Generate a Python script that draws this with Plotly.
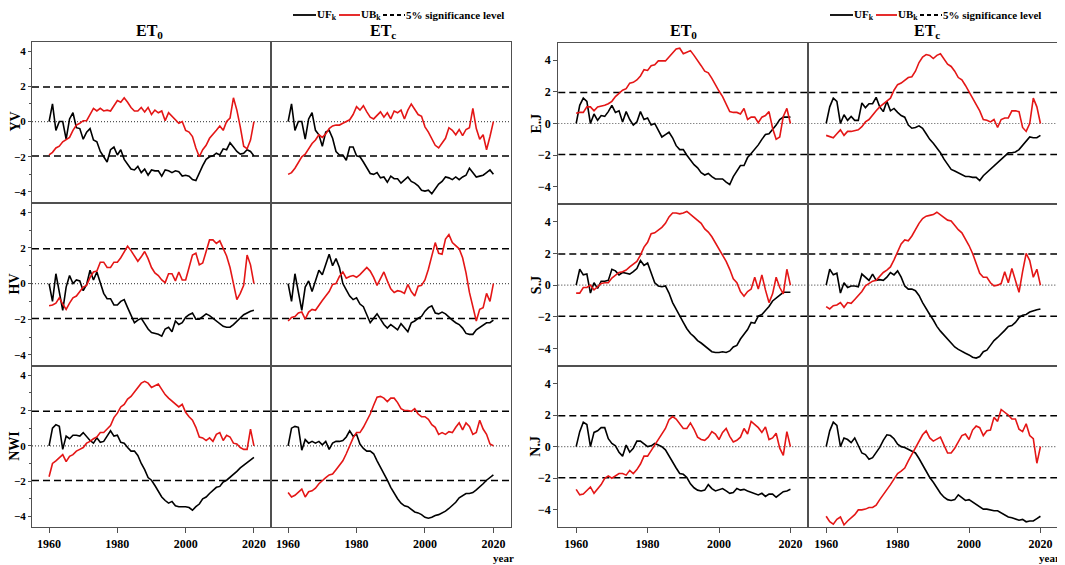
import plotly.graph_objects as go

YEARS = list(range(1960, 2021))
REGIONS_LEFT = ["YV", "HV", "NWI"]
REGIONS_RIGHT = ["E.J", "S.J", "N.J"]
COLUMN_TITLES = ["ET<sub>0</sub>", "ET<sub>c</sub>"]
SIG = 1.96
LEGEND_TEXTS = ["UF<sub>k</sub>", "UB<sub>k</sub>", "5% significance level"]

# ---------------- left group ----------------
YV_ET0_UF = [0, 1.0, -0.5, 0, 0, -1.0, 0.15, 0.5, -0.35, -0.4,
             -1.0, -0.6, -0.4, -1.05, -1.15, -1.7, -2.0, -2.3, -1.6, -1.45,
             -1.9, -1.6, -2.15, -2.45, -2.7, -2.75, -2.55, -2.9, -2.7, -3.05,
             -2.75, -2.8, -2.8, -3.1, -2.75, -2.8, -2.9, -2.8, -2.85, -3.1,
             -3.05, -3.1, -3.3, -3.35, -2.9, -2.5, -2.15, -2.0, -1.95, -1.8,
             -1.9, -1.55, -1.6, -1.2, -1.45, -1.7, -1.85, -1.8, -1.6, -1.7,
             -1.95]
YV_ET0_UB = [-1.9, -1.75, -1.5, -1.4, -1.15, -1.0, -0.9, -0.5, -0.2, -0.1,
             0.05, 0.05, 0.4, 0.75, 0.6, 0.75, 0.6, 0.65, 0.6, 0.9,
             1.2, 1.1, 1.35, 1.1, 0.8, 0.6, 0.6, 0.8, 0.55, 0.8,
             0.4, 0.65, 0.5, 0.6, 0.05, 0.5, 0.3, 0.15, -0.1, 0.0,
             -0.5, -0.6, -0.85, -1.5, -2.0, -1.6, -1.35, -0.95, -0.75, -0.5,
             -0.25, -0.5, 0.0, 0.2, 1.35, 0.65, -0.3, -1.4, -1.55, -1.05,
             0.0]
YV_ETc_UF = [0, 1.0, -0.5, 0, 0, -1.0, 0.15, 0.5, -0.5, -0.75,
             -1.4, -0.6, -0.5, -0.95, -1.7, -1.9, -1.9, -2.2, -1.45, -1.45,
             -1.95, -2.0, -2.3, -2.65, -2.95, -3.0, -2.9, -3.2, -3.15, -3.45,
             -3.1, -3.25, -3.25, -3.5, -3.35, -3.15, -3.4, -3.5, -3.65, -3.9,
             -3.95, -3.9, -4.1, -3.85, -3.55, -3.4, -3.15, -3.2, -3.3, -3.15,
             -3.3, -3.15, -3.05, -2.65, -2.9, -3.15, -3.1, -3.05, -2.9, -2.75,
             -3.0]
YV_ETc_UB = [-3.0, -2.9, -2.65, -2.35, -2.0, -1.85, -1.55, -1.25, -1.05, -0.75,
             -0.9, -0.7, -0.4, -0.25, -0.2, -0.2, -0.1, 0.0, 0.1, 0.4,
             0.85, 0.65, 0.9, 0.55, 0.25, 0.15, 0.35, 0.55, 0.25, 0.5,
             0.15, 0.6, 0.5, 0.65, 0.15, 0.65, 1.0, 0.7, 0.4, 0.3,
             -0.3, -0.6, -1.0, -1.35, -1.5, -1.25, -0.95, -0.35, -0.5, -0.75,
             -0.45, -0.8, -0.45, -0.35, 0.75, -0.4, -1.0, -0.75, -1.6, -0.85,
             0.0]
HV_ET0_UF = [0, -1.0, 0.55, -0.6, -1.5, -0.2, 0.45, 0.0, 0.2, 0.15,
             -0.4, -0.05, 0.75, 0.2, 0.65, 0.05, -0.55, -0.85, -0.85, -1.2,
             -1.2, -1.0, -0.9, -1.35, -1.75, -2.2, -2.05, -1.95, -2.25, -2.55,
             -2.75, -2.8, -2.85, -2.95, -2.55, -2.45, -2.7, -2.1, -2.3, -2.2,
             -1.9, -1.75, -1.65, -2.0, -2.0, -1.85, -1.7, -1.8, -1.95, -2.05,
             -2.2, -2.4, -2.45, -2.45, -2.3, -2.1, -1.9, -1.75, -1.65, -1.55,
             -1.5]
HV_ET0_UB = [-1.25, -1.2, -1.1, -0.8, -1.15, -1.45, -1.1, -0.8, -0.7, -0.45,
             -0.2, -0.1, 0.35, 0.65, 0.7, 1.2, 1.2, 0.9, 0.9, 1.2,
             1.2, 1.45, 1.75, 2.1, 1.85, 1.55, 1.25, 1.5, 1.8, 1.4,
             0.9, 0.6, 0.45, 0.2, 0.05, 0.55, 0.55, 0.15, 0.65, 0.2,
             0.2, 0.9, 1.6, 1.7, 1.05, 1.15, 1.85, 2.45, 2.45, 2.25,
             2.4, 1.95, 1.55, 0.9, 0.05, -0.9, -0.55, -0.1, 1.6, 1.05,
             0.0]
HV_ETc_UF = [0, -1.0, 0.55, -0.55, -1.5, -0.2, 0.15, -0.45, 0.15, 0.75,
             0.5, 1.05, 1.65, 1.0, 1.4, 0.9, 0.0, -0.35, -0.7, -0.9,
             -0.8, -1.15, -1.3, -1.75, -2.2, -1.95, -1.7, -2.0, -2.3, -2.5,
             -2.3, -2.45, -2.6, -2.25, -2.5, -2.7, -2.2, -2.1, -1.95, -1.85,
             -1.55, -1.35, -1.25, -1.65, -1.7, -1.6, -1.7, -1.9, -2.05, -2.2,
             -2.3, -2.5, -2.8, -2.85, -2.85, -2.6, -2.45, -2.3, -2.2, -2.2,
             -2.05]
HV_ETc_UB = [-2.1, -1.9, -1.85, -1.65, -1.6, -2.0, -1.6, -1.45, -1.5, -1.2,
             -0.95, -0.7, -0.45, -0.05, 0.0, 0.4, 0.65, 0.3, 0.4, 0.45,
             0.35, 0.5, 0.7, 0.9, 0.7, 0.35, -0.1, 0.3, 0.65, 0.15,
             -0.3, -0.5, -0.4, -0.45, -0.55, -0.05, -0.45, -0.7, -0.15, -0.1,
             0.2, 0.8, 1.5, 2.3, 1.7, 1.65, 2.5, 2.75, 2.3, 2.1,
             1.95, 1.45, 0.6, -0.5, -1.35, -2.1, -1.45, -1.35, -0.55, -1.0,
             0.0]
NWI_ET0_UF = [0, 1.0, 1.2, 1.1, -0.2, 0.55, 0.4, 0.6, 0.6, 0.55,
              0.75, 0.5, 0.3, 0.15, 0.45, 0.2, 0.25, 0.55, 0.85, 0.55,
              0.6, 0.2, 0.15, -0.1, -0.3, -0.3, -0.55, -1.0, -1.35, -1.8,
              -1.95, -2.25, -2.6, -2.9, -3.1, -3.25, -3.15, -3.4, -3.45, -3.45,
              -3.45, -3.5, -3.65, -3.45, -3.3, -3.0, -2.9, -2.7, -2.5, -2.35,
              -2.3, -2.05, -1.95, -1.8, -1.6, -1.45, -1.25, -1.1, -1.0, -0.85,
              -0.65]
NWI_ET0_UB = [-1.75, -1.0, -0.85, -0.7, -0.5, -0.9, -0.6, -0.5, -0.3, -0.2,
              -0.1, 0.15, 0.25, 0.4, 0.5, 0.75, 0.75, 0.95, 1.15, 1.6,
              1.85, 2.2, 2.35, 2.65, 2.8, 3.05, 3.3, 3.55, 3.65, 3.55,
              3.3, 3.4, 3.5, 3.2, 2.9, 2.7, 2.55, 2.4, 2.2, 2.35,
              1.9, 1.65, 1.45, 1.05, 0.5, 0.45, 0.3, 0.45, 0.25, 0.65,
              0.75, 0.3, 0.6, 0.5, 0.15, 0.1, -0.1, -0.2, -0.2, 0.95,
              0.0]
NWI_ETc_UF = [0, 1.0, 1.1, 1.05, -0.25, 0.35, 0.15, 0.25, 0.15, 0.25,
              0.05, 0.25, -0.2, 0.15, 0.25, 0.25, 0.3, 0.5, 0.85, 0.55,
              0.65, 0.1, -0.15, -0.3, -0.3, -0.45, -0.85, -1.2, -1.6, -1.95,
              -2.35, -2.7, -3.0, -3.25, -3.4, -3.45, -3.6, -3.75, -3.8, -3.9,
              -4.05, -4.1, -4.05, -3.95, -3.9, -3.8, -3.7, -3.55, -3.4, -3.2,
              -2.95, -2.8, -2.7, -2.7, -2.65, -2.5, -2.35, -2.15, -1.95, -1.8,
              -1.65]
NWI_ETc_UB = [-2.65, -2.9, -2.8, -2.6, -2.45, -2.9, -2.6, -2.55, -2.4, -2.15,
              -1.95, -1.8, -1.65, -1.6, -1.35, -1.1, -0.85, -0.45, 0.05, 0.45,
              0.75, 0.75, 1.05, 1.4, 1.8, 2.3, 2.75, 2.8, 2.7, 2.5,
              2.7, 2.7, 2.45, 2.1, 2.0, 2.0, 1.95, 2.1, 1.8, 1.65,
              1.65, 1.5, 1.2, 1.05, 0.65, 0.75, 0.65, 0.8, 0.75, 1.05,
              1.3, 0.9, 1.3, 1.1, 0.65, 0.75, 1.45, 0.95, 0.65, 0.1,
              0.0]

# ---------------- right group ----------------
EJ_ET0_UF = [0, 1.15, 1.6, 1.4, 0.0, 0.6, 0.2, 0.5, 0.45, 0.75,
             1.15, 0.7, 0.8, 0.1, 0.75, 0.25, -0.1, 0.1, 0.75, 0.25,
             0.35, -0.1, 0.0, -0.4, -0.85, -0.7, -0.55, -0.9, -1.4, -1.65,
             -1.65, -2.0, -2.3, -2.6, -2.8, -3.1, -3.25, -3.15, -3.35, -3.5,
             -3.5, -3.5, -3.7, -3.85, -3.35, -3.0, -2.65, -2.65, -2.15, -1.9,
             -1.65, -1.35, -1.0, -0.7, -0.65, -0.4, -0.1, 0.25, 0.4, 0.4,
             0.4]
EJ_ET0_UB = [0.65, 0.7, 0.7, 1.05, 1.05, 0.8, 1.05, 1.1, 1.15, 1.25,
             1.4, 1.7, 1.9, 2.1, 2.2, 2.55, 2.6, 2.75, 3.0, 3.4,
             3.35, 3.65, 3.7, 3.95, 3.95, 3.95, 4.2, 4.45, 4.7, 4.75,
             4.4, 4.5, 4.6, 4.3, 4.0, 3.65, 3.3, 3.2, 2.85, 2.4,
             2.05, 1.7, 1.25, 0.75, 0.7, 0.7, 0.6, 0.95, 0.25, 0.4,
             0.4, 0.05, 0.4, 0.5, 0.75, -0.3, -1.0, -0.85, 0.45, 0.95,
             0.0]
EJ_ETc_UF = [0, 1.05, 1.6, 1.4, 0.0, 0.55, 0.2, 0.45, 0.2, 0.2,
             1.3, 1.0, 1.25, 1.25, 1.65, 1.05, 0.75, 1.4, 0.8, 0.95,
             0.7, 0.5, 0.4, -0.1, -0.3, -0.25, -0.15, -0.3, -0.65, -1.0,
             -1.25, -1.55, -1.85, -2.25, -2.6, -2.9, -3.0, -3.1, -3.25, -3.35,
             -3.35, -3.4, -3.4, -3.6, -3.3, -3.1, -2.9, -2.7, -2.5, -2.25,
             -2.05, -1.85, -1.85, -1.8, -1.65, -1.4, -1.1, -0.85, -0.9, -0.9,
             -0.75]
EJ_ETc_UB = [-0.75, -0.85, -0.9, -0.65, -0.4, -0.75, -0.5, -0.5, -0.45, -0.4,
             -0.2, 0.1, 0.25, 0.55, 0.8, 1.05, 1.25, 1.45, 1.6, 2.1,
             2.45, 2.55, 2.75, 2.9, 2.95, 3.3, 3.85, 4.2, 4.35, 4.3,
             4.1, 4.3, 4.4, 4.1, 3.75, 3.6, 3.3, 2.9, 2.75, 2.4,
             2.0, 1.65, 1.25, 0.8, 0.25, 0.2, 0.1, 0.25, -0.25, 0.25,
             0.35, 0.35, 0.8, 0.8, 0.75, -0.25, -0.5, 0.0, 1.6, 1.05,
             0.0]
SJ_ET0_UF = [0, 1.0, 0.65, 0.7, -0.5, 0.15, -0.2, 0.25, 0.25, 0.3,
             1.0, 0.9, 0.65, 0.8, 0.75, 0.7, 0.85, 1.05, 1.55, 1.25,
             1.4, 0.75, 0.15, -0.05, -0.1, -0.05, -0.5, -1.1, -1.55, -1.9,
             -2.35, -2.75, -3.05, -3.25, -3.5, -3.65, -3.85, -4.05, -4.2, -4.25,
             -4.25, -4.2, -4.25, -4.15, -3.9, -3.8, -3.4, -3.1, -2.8, -2.35,
             -2.4, -1.95, -1.85, -1.6, -1.35, -1.0, -0.8, -0.6, -0.45, -0.45,
             -0.45]
SJ_ET0_UB = [-0.5, -0.5, -0.15, -0.15, 0.0, -0.3, -0.1, 0.1, 0.15, 0.15,
             0.45, 0.65, 0.8, 0.85, 0.95, 1.15, 1.35, 1.5, 1.9, 2.4,
             2.7, 3.25, 3.3, 3.45, 3.65, 3.9, 4.3, 4.55, 4.55, 4.5,
             4.55, 4.65, 4.45, 4.25, 4.1, 3.9, 3.55, 3.35, 3.05, 2.65,
             2.25, 1.85, 1.5, 1.0, 0.4, 0.15, -0.4, -0.7, -0.4, -0.25,
             0.5, -0.25, 0.65, -0.3, -1.1, -0.55, 0.5, -0.15, -0.55, 1.0,
             0.0]
SJ_ETc_UF = [0, 1.0, 0.65, 0.75, -0.5, 0.15, -0.15, -0.05, -0.05, -0.1,
             0.7, 0.5, 0.3, 0.7, 0.3, 0.35, 0.3, 0.5, 0.8, 0.65,
             0.9, 0.5, -0.05, -0.25, -0.25, -0.35, -0.65, -1.1, -1.5, -1.85,
             -2.2, -2.6, -2.9, -3.15, -3.4, -3.65, -3.9, -4.05, -4.2, -4.3,
             -4.4, -4.55, -4.6, -4.5, -4.2, -4.1, -3.8, -3.5, -3.3, -3.1,
             -2.85, -2.6, -2.55, -2.35, -2.05, -1.9, -1.85, -1.7, -1.6, -1.55,
             -1.5]
SJ_ETc_UB = [-1.35, -1.5, -1.3, -1.25, -1.1, -1.4, -1.1, -1.15, -0.9, -0.65,
             -0.4, -0.05, 0.1, 0.25, 0.3, 0.55, 0.8, 0.95, 1.15, 1.6,
             2.05, 2.6, 2.85, 2.8, 3.1, 3.55, 3.9, 4.2, 4.35, 4.4,
             4.45, 4.6, 4.45, 4.25, 4.1, 4.05, 3.75, 3.5, 3.3, 2.9,
             2.5, 2.0, 1.35, 0.75, 0.5, 0.5, 0.15, -0.05, 0.0, 0.1,
             0.85, 0.15, 1.05, 0.3, -0.45, 0.85, 2.0, 1.55, 0.5, 1.0,
             0.0]
NJ_ET0_UF = [0, 0.95, 1.55, 1.4, 0.0, 0.9, 1.0, 1.2, 1.2, 0.5,
             0.2, 0.05, -0.35, -0.6, 0.1, -0.35, -0.1, 0.35, 0.35, 0.2,
             0.0, 0.05, 0.2, 0.1, 0.0, -0.2, -0.6, -1.0, -1.35, -1.7,
             -1.75, -1.95, -2.35, -2.6, -2.75, -2.8, -2.75, -2.4, -2.65, -2.8,
             -2.7, -2.65, -2.8, -2.95, -2.9, -2.65, -2.75, -2.7, -2.8, -2.9,
             -2.95, -3.05, -2.95, -3.15, -3.0, -3.0, -3.2, -3.05, -2.85, -2.8,
             -2.7]
NJ_ET0_UB = [-2.7, -3.05, -3.0, -2.75, -2.55, -2.95, -2.65, -2.4, -2.0, -1.85,
             -2.0, -1.85, -1.7, -1.7, -1.8, -1.5, -1.7, -1.45, -1.1, -0.6,
             -0.6, -0.25, 0.1, 0.45, 0.8, 1.15, 1.7, 1.9, 1.75, 1.45,
             1.15, 1.15, 1.5, 1.1, 0.6, 0.45, 0.4, 0.6, 0.95, 0.8,
             0.45, 0.9, 1.15, 0.65, 0.3, 0.4, 0.6, 1.15, 0.8, 1.6,
             1.4, 1.2, 0.9, 1.25, 0.45, 0.55, 0.85, -0.1, -0.55, 0.95,
             0.0]
NJ_ETc_UF = [0, 1.0, 1.55, 1.35, 0.0, 0.55, 0.45, 0.25, 0.55, 0.1,
             -0.4, -0.5, -0.8, -0.7, -0.35, -0.05, 0.4, 0.75, 0.7, 0.5,
             0.15, 0.0, -0.05, -0.15, -0.25, -0.4, -0.75, -1.15, -1.6, -1.95,
             -2.25, -2.6, -2.95, -3.2, -3.35, -3.4, -3.35, -3.05, -3.25, -3.4,
             -3.35, -3.5, -3.6, -3.8, -3.95, -3.95, -4.0, -4.05, -4.05, -4.2,
             -4.3, -4.45, -4.5, -4.6, -4.65, -4.6, -4.75, -4.7, -4.7, -4.55,
             -4.4]
NJ_ETc_UB = [-4.4, -4.75, -4.9, -4.6, -4.45, -4.95, -4.7, -4.5, -4.3, -4.0,
             -4.0, -3.95, -3.85, -3.85, -3.7, -3.35, -3.05, -2.7, -2.4, -2.05,
             -1.7, -1.55, -1.35, -0.9, -0.5, -0.1, 0.3, 0.75, 1.0, 0.55,
             0.35, 0.45, 0.6, 0.1, -0.4, -0.4, -0.1, 0.3, 0.7, 0.8,
             0.45, 1.05, 1.3, 1.2, 0.7, 1.0, 1.05, 1.85, 1.6, 2.35,
             2.2, 2.0, 1.75, 1.75, 1.1, 0.95, 1.45, 0.7, 0.5, -1.05,
             0.0]

# ---------------- layout ----------------
# The page body has an 8px margin, so the figure is drawn 8px in from the
# window's top-left corner; positions below are given in window pixels.
OFF = 8
W, H = 1065 - OFF, 565 - OFF
RED = "rgb(228,22,22)"
FRAME = "#505050"
FONT = "Liberation Serif"


def fx(p):
    return (p - OFF) / W


def fy(p):
    return 1 - (p - OFF) / H


GROUPS = [
    dict(cols=[(32, 271), (271, 510.5)],
         rows=[(41.5, 202.5), (202.5, 365.5), (365.5, 527)],
         yrange=[-4.6, 4.55], minor=True, ticklen=3, tsize=11, names=REGIONS_LEFT,
         label_x=14.5, title_x=[149, 383], year_x=503, legend_x=293,
         series=[[(YV_ET0_UF, YV_ET0_UB), (YV_ETc_UF, YV_ETc_UB)],
                 [(HV_ET0_UF, HV_ET0_UB), (HV_ETc_UF, HV_ETc_UB)],
                 [(NWI_ET0_UF, NWI_ET0_UB), (NWI_ETc_UF, NWI_ETc_UB)]]),
    dict(cols=[(558.3, 808.3), (808.3, 1058.3)],
         rows=[(42.7, 204.3), (204.3, 366), (366, 527.3)],
         yrange=[-5.1, 5.1], minor=False, ticklen=4, tsize=12, names=REGIONS_RIGHT,
         label_x=536, title_x=[683, 927], year_x=1049, legend_x=830,
         series=[[(EJ_ET0_UF, EJ_ET0_UB), (EJ_ETc_UF, EJ_ETc_UB)],
                 [(SJ_ET0_UF, SJ_ET0_UB), (SJ_ETc_UF, SJ_ETc_UB)],
                 [(NJ_ET0_UF, NJ_ET0_UB), (NJ_ETc_UF, NJ_ETc_UB)]]),
]

fig = go.Figure()
xtickfont = dict(family=FONT, size=12, color="black", weight="bold")
annotations = []
shapes = []
n = 0
for g in GROUPS:
    for r, (top, bot) in enumerate(g["rows"]):
        for c, (x0, x1) in enumerate(g["cols"]):
            n += 1
            xa = "x" if n == 1 else f"x{n}"
            ya = "y" if n == 1 else f"y{n}"
            uf, ub = g["series"][r][c]
            for yv, dash, col, wd in [(SIG, "7px,4px", "black", 1.5),
                                      (-SIG, "7px,4px", "black", 1.5),
                                      (0, "1px,2px", "#555555", 1.2)]:
                shapes.append(dict(type="line", xref=f"{xa} domain", yref=ya,
                                   x0=0, x1=1, y0=yv, y1=yv, layer="below",
                                   line=dict(color=col, width=wd, dash=dash)))
            fig.add_trace(go.Scatter(x=YEARS, y=uf, mode="lines", xaxis=xa, yaxis=ya,
                                     line=dict(color="black", width=1.6), showlegend=False))
            fig.add_trace(go.Scatter(x=YEARS, y=ub, mode="lines", xaxis=xa, yaxis=ya,
                                     line=dict(color=RED, width=1.6), showlegend=False))
            bottom = r == 2
            left = c == 0
            xkey = "xaxis" if n == 1 else f"xaxis{n}"
            ykey = "yaxis" if n == 1 else f"yaxis{n}"
            fig.layout[xkey] = dict(
                domain=[fx(x0), fx(x1)], range=[1955, 2025], anchor=ya,
                showline=True, mirror=True, linecolor=FRAME, linewidth=1.2,
                showgrid=False, zeroline=False, tickmode="linear", tick0=1960, dtick=20,
                ticks="outside" if bottom else "", ticklen=5, tickcolor=FRAME,
                showticklabels=bottom, tickfont=xtickfont)
            ydict = dict(
                domain=[fy(bot), fy(top)], range=g["yrange"], anchor=xa,
                showline=True, mirror=True, linecolor=FRAME, linewidth=1.2,
                showgrid=False, zeroline=False, tickmode="linear", tick0=0, dtick=2,
                ticks="outside" if left else "", ticklen=g["ticklen"], tickcolor=FRAME,
                showticklabels=left,
                tickfont=dict(family=FONT, size=g["tsize"], color="black", weight="bold"))
            if left and g["minor"]:
                ydict["minor"] = dict(ticks="outside", dtick=1, ticklen=2, tickcolor=FRAME)
            fig.layout[ykey] = ydict
        annotations.append(dict(xref="paper", yref="paper", x=fx(g["label_x"]),
                                y=fy((top + bot) / 2), text=g["names"][r], textangle=-90,
                                showarrow=False, xanchor="center", yanchor="middle",
                                font=dict(family=FONT, size=14, color="black", weight="bold")))
    for c in range(2):
        annotations.append(dict(xref="paper", yref="paper", x=fx(g["title_x"][c]), y=fy(32),
                                text=COLUMN_TITLES[c], showarrow=False, xanchor="center",
                                yanchor="middle",
                                font=dict(family=FONT, size=16, color="black", weight="bold")))
    annotations.append(dict(xref="paper", yref="paper", x=fx(g["year_x"]), y=fy(558),
                            text="year", showarrow=False, xanchor="center", yanchor="middle",
                            font=dict(family=FONT, size=11, color="black", weight="bold")))
    # compact key drawn per group
    lx = g["legend_x"]
    ly = fy(15)
    samples = [(0, 23, "black", "solid"), (46, 67, RED, "solid"), (90, 112, "black", "4px,3px")]
    text_off = [24, 68, 113]
    for (a, b, col, dash), tx, label in zip(samples, text_off, LEGEND_TEXTS):
        shapes.append(dict(type="line", xref="paper", yref="paper",
                           x0=fx(lx + a), x1=fx(lx + b), y0=ly, y1=ly,
                           line=dict(color=col, width=1.8, dash=dash)))
        annotations.append(dict(xref="paper", yref="paper", x=fx(lx + tx), y=ly,
                                text=label, showarrow=False, xanchor="left", yanchor="middle",
                                xshift=-2,
                                font=dict(family=FONT, size=11, color="black", weight="bold")))

fig.update_layout(width=W, height=H, margin=dict(l=0, r=0, t=0, b=0),
                  paper_bgcolor="white", plot_bgcolor="white", showlegend=False,
                  annotations=annotations, shapes=shapes,
                  font=dict(family=FONT, color="black"))
fig.write_html("out.html")
